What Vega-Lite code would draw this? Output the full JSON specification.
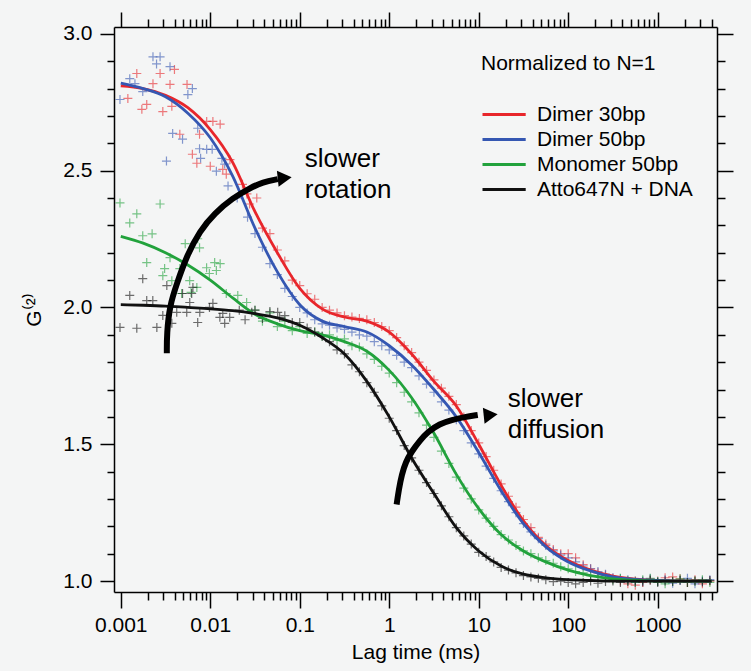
{
"$schema": "https://vega.github.io/schema/vega-lite/v6.json",
"width": 603, "height": 565,
"autosize": {"type": "none"},
"padding": {"left": 114, "top": 27, "right": 34, "bottom": 79},
"background": "#f4f5f5",
"config": {
  "view": {"stroke": null},
  "font": "Liberation Sans",
  "axis": {"domainColor": "black", "tickColor": "black", "domainWidth": 1.5, "tickWidth": 1.5, "labelFont": "Liberation Sans", "labelFontSize": 21, "labelColor": "black", "titleFont": "Liberation Sans", "titleFontSize": 21, "titleFontWeight": "normal", "titleColor": "black", "grid": false},
  "legend": {"titleFont": "Liberation Sans", "titleFontSize": 21, "titleFontWeight": "normal", "titleColor": "black", "labelFont": "Liberation Sans", "labelFontSize": 21, "labelColor": "black", "padding": 0}
},
"datasets": {
  "pts": [
    {"s":"Dimer 30bp","t":0.0012,"g":2.764},{"s":"Dimer 30bp","t":0.00151,"g":2.855},{"s":"Dimer 30bp","t":0.00172,"g":2.724},{"s":"Dimer 30bp","t":0.00195,"g":2.742},{"s":"Dimer 30bp","t":0.00229,"g":2.818},{"s":"Dimer 30bp","t":0.00275,"g":2.855},{"s":"Dimer 30bp","t":0.00295,"g":2.716},{"s":"Dimer 30bp","t":0.00355,"g":2.815},{"s":"Dimer 30bp","t":0.00372,"g":2.735},{"s":"Dimer 30bp","t":0.00398,"g":2.87},{"s":"Dimer 30bp","t":0.00457,"g":2.633},{"s":"Dimer 30bp","t":0.0055,"g":2.815},{"s":"Dimer 30bp","t":0.00631,"g":2.56},{"s":"Dimer 30bp","t":0.00708,"g":2.527},{"s":"Dimer 30bp","t":0.00759,"g":2.633},{"s":"Dimer 30bp","t":0.00912,"g":2.68},{"s":"Dimer 30bp","t":0.01,"g":2.516},{"s":"Dimer 30bp","t":0.0107,"g":2.68},{"s":"Dimer 30bp","t":0.0129,"g":2.67},{"s":"Dimer 30bp","t":0.0138,"g":2.505},{"s":"Dimer 30bp","t":0.0151,"g":2.487},{"s":"Dimer 30bp","t":0.0166,"g":2.54},{"s":"Dimer 30bp","t":0.0229,"g":2.45},{"s":"Dimer 30bp","t":0.0257,"g":2.415},{"s":"Dimer 30bp","t":0.0275,"g":2.378},{"s":"Dimer 30bp","t":0.0331,"g":2.4},
    {"s":"Dimer 30bp","t":0.0383,"g":2.29},{"s":"Dimer 30bp","t":0.0464,"g":2.27},{"s":"Dimer 30bp","t":0.0562,"g":2.21},{"s":"Dimer 30bp","t":0.0681,"g":2.17},{"s":"Dimer 30bp","t":0.0825,"g":2.1},{"s":"Dimer 30bp","t":0.1,"g":2.08},{"s":"Dimer 30bp","t":0.121,"g":2.05},{"s":"Dimer 30bp","t":0.147,"g":2.03},{"s":"Dimer 30bp","t":0.178,"g":2.0},{"s":"Dimer 30bp","t":0.215,"g":1.99},{"s":"Dimer 30bp","t":0.261,"g":1.98},{"s":"Dimer 30bp","t":0.316,"g":1.97},{"s":"Dimer 30bp","t":0.383,"g":1.965},{"s":"Dimer 30bp","t":0.464,"g":1.96},{"s":"Dimer 30bp","t":0.562,"g":1.955},{"s":"Dimer 30bp","t":0.681,"g":1.945},{"s":"Dimer 30bp","t":0.825,"g":1.93},{"s":"Dimer 30bp","t":1,"g":1.915},{"s":"Dimer 30bp","t":1.21,"g":1.89},{"s":"Dimer 30bp","t":1.47,"g":1.86},{"s":"Dimer 30bp","t":1.78,"g":1.835},{"s":"Dimer 30bp","t":2.15,"g":1.8},{"s":"Dimer 30bp","t":2.61,"g":1.77},{"s":"Dimer 30bp","t":3.16,"g":1.735},{"s":"Dimer 30bp","t":3.83,"g":1.705},{"s":"Dimer 30bp","t":4.64,"g":1.675},{"s":"Dimer 30bp","t":5.62,"g":1.645},{"s":"Dimer 30bp","t":6.81,"g":1.6},{"s":"Dimer 30bp","t":8.25,"g":1.55},{"s":"Dimer 30bp","t":10,"g":1.505},{"s":"Dimer 30bp","t":12.1,"g":1.455},{"s":"Dimer 30bp","t":14.7,"g":1.405},{"s":"Dimer 30bp","t":17.8,"g":1.355},{"s":"Dimer 30bp","t":21.5,"g":1.31},{"s":"Dimer 30bp","t":26.1,"g":1.27},{"s":"Dimer 30bp","t":31.6,"g":1.225},{"s":"Dimer 30bp","t":38.3,"g":1.195},{"s":"Dimer 30bp","t":46.4,"g":1.16},{"s":"Dimer 30bp","t":56.2,"g":1.135},{"s":"Dimer 30bp","t":68.1,"g":1.115},{"s":"Dimer 30bp","t":82.5,"g":1.1},{"s":"Dimer 30bp","t":100,"g":1.1},{"s":"Dimer 30bp","t":121,"g":1.085},{"s":"Dimer 30bp","t":147,"g":1.06},{"s":"Dimer 30bp","t":178,"g":1.045},{"s":"Dimer 30bp","t":215,"g":1.03},{"s":"Dimer 30bp","t":261,"g":1.022},{"s":"Dimer 30bp","t":316,"g":1.01},{"s":"Dimer 30bp","t":383,"g":1.0},{"s":"Dimer 30bp","t":464,"g":0.99},{"s":"Dimer 30bp","t":562,"g":0.985},{"s":"Dimer 30bp","t":681,"g":0.995},{"s":"Dimer 30bp","t":825,"g":1.005},{"s":"Dimer 30bp","t":1000,"g":1.0},{"s":"Dimer 30bp","t":1210,"g":1.012},{"s":"Dimer 30bp","t":1470,"g":1.015},{"s":"Dimer 30bp","t":1780,"g":1.008},{"s":"Dimer 30bp","t":2150,"g":0.995},{"s":"Dimer 30bp","t":2610,"g":1.005},{"s":"Dimer 30bp","t":3160,"g":0.99},{"s":"Dimer 30bp","t":3830,"g":1.0},
    {"s":"Dimer 50bp","t":0.00098,"g":2.76},{"s":"Dimer 50bp","t":0.00126,"g":2.836},{"s":"Dimer 50bp","t":0.00144,"g":2.818},{"s":"Dimer 50bp","t":0.00176,"g":2.789},{"s":"Dimer 50bp","t":0.00229,"g":2.916},{"s":"Dimer 50bp","t":0.00251,"g":2.89},{"s":"Dimer 50bp","t":0.00275,"g":2.916},{"s":"Dimer 50bp","t":0.00324,"g":2.535},{"s":"Dimer 50bp","t":0.00355,"g":2.88},{"s":"Dimer 50bp","t":0.0038,"g":2.636},{"s":"Dimer 50bp","t":0.0049,"g":2.615},{"s":"Dimer 50bp","t":0.00562,"g":2.778},{"s":"Dimer 50bp","t":0.00631,"g":2.8},{"s":"Dimer 50bp","t":0.00724,"g":2.655},{"s":"Dimer 50bp","t":0.00759,"g":2.58},{"s":"Dimer 50bp","t":0.0078,"g":2.545},{"s":"Dimer 50bp","t":0.00912,"g":2.578},{"s":"Dimer 50bp","t":0.0105,"g":2.578},{"s":"Dimer 50bp","t":0.0117,"g":2.498},{"s":"Dimer 50bp","t":0.0135,"g":2.545},{"s":"Dimer 50bp","t":0.0145,"g":2.524},{"s":"Dimer 50bp","t":0.0158,"g":2.444},{"s":"Dimer 50bp","t":0.02,"g":2.4},
    {"s":"Dimer 50bp","t":0.0261,"g":2.33},{"s":"Dimer 50bp","t":0.0316,"g":2.27},{"s":"Dimer 50bp","t":0.0383,"g":2.22},{"s":"Dimer 50bp","t":0.0464,"g":2.16},{"s":"Dimer 50bp","t":0.0562,"g":2.12},{"s":"Dimer 50bp","t":0.0681,"g":2.07},{"s":"Dimer 50bp","t":0.0825,"g":2.04},{"s":"Dimer 50bp","t":0.1,"g":2.0},{"s":"Dimer 50bp","t":0.121,"g":1.98},{"s":"Dimer 50bp","t":0.147,"g":1.955},{"s":"Dimer 50bp","t":0.178,"g":1.94},{"s":"Dimer 50bp","t":0.215,"g":1.935},{"s":"Dimer 50bp","t":0.261,"g":1.925},{"s":"Dimer 50bp","t":0.316,"g":1.92},{"s":"Dimer 50bp","t":0.383,"g":1.91},{"s":"Dimer 50bp","t":0.464,"g":1.9},{"s":"Dimer 50bp","t":0.562,"g":1.895},{"s":"Dimer 50bp","t":0.681,"g":1.875},{"s":"Dimer 50bp","t":0.825,"g":1.86},{"s":"Dimer 50bp","t":1,"g":1.845},{"s":"Dimer 50bp","t":1.21,"g":1.825},{"s":"Dimer 50bp","t":1.47,"g":1.8},{"s":"Dimer 50bp","t":1.78,"g":1.78},{"s":"Dimer 50bp","t":2.15,"g":1.75},{"s":"Dimer 50bp","t":2.61,"g":1.72},{"s":"Dimer 50bp","t":3.16,"g":1.69},{"s":"Dimer 50bp","t":3.83,"g":1.655},{"s":"Dimer 50bp","t":4.64,"g":1.625},{"s":"Dimer 50bp","t":5.62,"g":1.59},{"s":"Dimer 50bp","t":6.81,"g":1.55},{"s":"Dimer 50bp","t":8.25,"g":1.505},{"s":"Dimer 50bp","t":10,"g":1.465},{"s":"Dimer 50bp","t":12.1,"g":1.42},{"s":"Dimer 50bp","t":14.7,"g":1.375},{"s":"Dimer 50bp","t":17.8,"g":1.33},{"s":"Dimer 50bp","t":21.5,"g":1.29},{"s":"Dimer 50bp","t":26.1,"g":1.25},{"s":"Dimer 50bp","t":31.6,"g":1.21},{"s":"Dimer 50bp","t":38.3,"g":1.18},{"s":"Dimer 50bp","t":46.4,"g":1.155},{"s":"Dimer 50bp","t":56.2,"g":1.13},{"s":"Dimer 50bp","t":68.1,"g":1.11},{"s":"Dimer 50bp","t":82.5,"g":1.095},{"s":"Dimer 50bp","t":100,"g":1.085},{"s":"Dimer 50bp","t":121,"g":1.07},{"s":"Dimer 50bp","t":147,"g":1.055},{"s":"Dimer 50bp","t":178,"g":1.045},{"s":"Dimer 50bp","t":215,"g":1.035},{"s":"Dimer 50bp","t":261,"g":1.025},{"s":"Dimer 50bp","t":316,"g":1.012},{"s":"Dimer 50bp","t":383,"g":1.008},{"s":"Dimer 50bp","t":464,"g":1.005},{"s":"Dimer 50bp","t":562,"g":0.995},{"s":"Dimer 50bp","t":681,"g":1.0},{"s":"Dimer 50bp","t":825,"g":1.008},{"s":"Dimer 50bp","t":1000,"g":0.998},{"s":"Dimer 50bp","t":1210,"g":1.005},{"s":"Dimer 50bp","t":1470,"g":0.992},{"s":"Dimer 50bp","t":1780,"g":1.002},{"s":"Dimer 50bp","t":2150,"g":1.01},{"s":"Dimer 50bp","t":2610,"g":0.99},{"s":"Dimer 50bp","t":3160,"g":1.0},{"s":"Dimer 50bp","t":3830,"g":1.005},
    {"s":"Monomer 50bp","t":0.00098,"g":2.382},{"s":"Monomer 50bp","t":0.00126,"g":2.309},{"s":"Monomer 50bp","t":0.00151,"g":2.342},{"s":"Monomer 50bp","t":0.00176,"g":2.262},{"s":"Monomer 50bp","t":0.00195,"g":2.164},{"s":"Monomer 50bp","t":0.00224,"g":2.269},{"s":"Monomer 50bp","t":0.00275,"g":2.378},{"s":"Monomer 50bp","t":0.00295,"g":2.116},{"s":"Monomer 50bp","t":0.00309,"g":2.142},{"s":"Monomer 50bp","t":0.00355,"g":2.182},{"s":"Monomer 50bp","t":0.00372,"g":2.098},{"s":"Monomer 50bp","t":0.00457,"g":2.142},{"s":"Monomer 50bp","t":0.00479,"g":2.051},{"s":"Monomer 50bp","t":0.00525,"g":2.233},{"s":"Monomer 50bp","t":0.00589,"g":2.098},{"s":"Monomer 50bp","t":0.0061,"g":2.055},{"s":"Monomer 50bp","t":0.00708,"g":2.073},{"s":"Monomer 50bp","t":0.00724,"g":2.251},{"s":"Monomer 50bp","t":0.00759,"g":2.218},{"s":"Monomer 50bp","t":0.0091,"g":2.145},{"s":"Monomer 50bp","t":0.00977,"g":2.124},{"s":"Monomer 50bp","t":0.0112,"g":2.164},{"s":"Monomer 50bp","t":0.0117,"g":2.135},{"s":"Monomer 50bp","t":0.0129,"g":2.16},{"s":"Monomer 50bp","t":0.0151,"g":2.051},{"s":"Monomer 50bp","t":0.0203,"g":2.044},{"s":"Monomer 50bp","t":0.0255,"g":2.018},
    {"s":"Monomer 50bp","t":0.0316,"g":1.99},{"s":"Monomer 50bp","t":0.0383,"g":1.95},{"s":"Monomer 50bp","t":0.0464,"g":1.98},{"s":"Monomer 50bp","t":0.0562,"g":1.93},{"s":"Monomer 50bp","t":0.0681,"g":1.95},{"s":"Monomer 50bp","t":0.0825,"g":1.915},{"s":"Monomer 50bp","t":0.1,"g":1.93},{"s":"Monomer 50bp","t":0.121,"g":1.905},{"s":"Monomer 50bp","t":0.147,"g":1.91},{"s":"Monomer 50bp","t":0.178,"g":1.895},{"s":"Monomer 50bp","t":0.215,"g":1.9},{"s":"Monomer 50bp","t":0.261,"g":1.88},{"s":"Monomer 50bp","t":0.316,"g":1.885},{"s":"Monomer 50bp","t":0.383,"g":1.86},{"s":"Monomer 50bp","t":0.464,"g":1.855},{"s":"Monomer 50bp","t":0.562,"g":1.83},{"s":"Monomer 50bp","t":0.681,"g":1.81},{"s":"Monomer 50bp","t":0.825,"g":1.785},{"s":"Monomer 50bp","t":1,"g":1.76},{"s":"Monomer 50bp","t":1.21,"g":1.725},{"s":"Monomer 50bp","t":1.47,"g":1.69},{"s":"Monomer 50bp","t":1.78,"g":1.655},{"s":"Monomer 50bp","t":2.15,"g":1.615},{"s":"Monomer 50bp","t":2.61,"g":1.57},{"s":"Monomer 50bp","t":3.16,"g":1.525},{"s":"Monomer 50bp","t":3.83,"g":1.475},{"s":"Monomer 50bp","t":4.64,"g":1.43},{"s":"Monomer 50bp","t":5.62,"g":1.38},{"s":"Monomer 50bp","t":6.81,"g":1.34},{"s":"Monomer 50bp","t":8.25,"g":1.3},{"s":"Monomer 50bp","t":10,"g":1.26},{"s":"Monomer 50bp","t":12.1,"g":1.23},{"s":"Monomer 50bp","t":14.7,"g":1.2},{"s":"Monomer 50bp","t":17.8,"g":1.17},{"s":"Monomer 50bp","t":21.5,"g":1.15},{"s":"Monomer 50bp","t":26.1,"g":1.13},{"s":"Monomer 50bp","t":31.6,"g":1.11},{"s":"Monomer 50bp","t":38.3,"g":1.1},{"s":"Monomer 50bp","t":46.4,"g":1.085},{"s":"Monomer 50bp","t":56.2,"g":1.075},{"s":"Monomer 50bp","t":68.1,"g":1.065},{"s":"Monomer 50bp","t":82.5,"g":1.052},{"s":"Monomer 50bp","t":100,"g":1.045},{"s":"Monomer 50bp","t":121,"g":1.035},{"s":"Monomer 50bp","t":147,"g":1.03},{"s":"Monomer 50bp","t":178,"g":1.02},{"s":"Monomer 50bp","t":215,"g":1.018},{"s":"Monomer 50bp","t":261,"g":1.012},{"s":"Monomer 50bp","t":316,"g":1.005},{"s":"Monomer 50bp","t":383,"g":1.01},{"s":"Monomer 50bp","t":464,"g":1.002},{"s":"Monomer 50bp","t":562,"g":0.995},{"s":"Monomer 50bp","t":681,"g":1.005},{"s":"Monomer 50bp","t":825,"g":1.01},{"s":"Monomer 50bp","t":1000,"g":0.998},{"s":"Monomer 50bp","t":1210,"g":0.99},{"s":"Monomer 50bp","t":1470,"g":1.0},{"s":"Monomer 50bp","t":1780,"g":1.008},{"s":"Monomer 50bp","t":2150,"g":0.995},{"s":"Monomer 50bp","t":2610,"g":1.0},{"s":"Monomer 50bp","t":3160,"g":1.005},{"s":"Monomer 50bp","t":3830,"g":0.995},
    {"s":"Atto647N + DNA","t":0.00098,"g":1.927},{"s":"Atto647N + DNA","t":0.00126,"g":2.044},{"s":"Atto647N + DNA","t":0.00151,"g":1.924},{"s":"Atto647N + DNA","t":0.00176,"g":2.105},{"s":"Atto647N + DNA","t":0.00195,"g":2.025},{"s":"Atto647N + DNA","t":0.00228,"g":2.025},{"s":"Atto647N + DNA","t":0.00253,"g":1.927},{"s":"Atto647N + DNA","t":0.00295,"g":1.971},{"s":"Atto647N + DNA","t":0.00327,"g":2.08},{"s":"Atto647N + DNA","t":0.00372,"g":1.942},{"s":"Atto647N + DNA","t":0.00422,"g":1.982},{"s":"Atto647N + DNA","t":0.0049,"g":2.051},{"s":"Atto647N + DNA","t":0.00546,"g":1.982},{"s":"Atto647N + DNA","t":0.0059,"g":2.018},{"s":"Atto647N + DNA","t":0.0062,"g":2.051},{"s":"Atto647N + DNA","t":0.0064,"g":2.073},{"s":"Atto647N + DNA","t":0.00724,"g":1.945},{"s":"Atto647N + DNA","t":0.00764,"g":1.982},{"s":"Atto647N + DNA","t":0.0098,"g":2.0},{"s":"Atto647N + DNA","t":0.0107,"g":2.015},{"s":"Atto647N + DNA","t":0.0128,"g":1.964},{"s":"Atto647N + DNA","t":0.0138,"g":1.978},{"s":"Atto647N + DNA","t":0.0145,"g":1.942},{"s":"Atto647N + DNA","t":0.0165,"g":1.964},{"s":"Atto647N + DNA","t":0.0211,"g":1.99},{"s":"Atto647N + DNA","t":0.0245,"g":1.955},{"s":"Atto647N + DNA","t":0.0291,"g":1.982},{"s":"Atto647N + DNA","t":0.0316,"g":1.99},{"s":"Atto647N + DNA","t":0.0383,"g":1.96},{"s":"Atto647N + DNA","t":0.0464,"g":1.985},{"s":"Atto647N + DNA","t":0.0567,"g":1.982},{"s":"Atto647N + DNA","t":0.0596,"g":1.964},{"s":"Atto647N + DNA","t":0.0681,"g":1.97},{"s":"Atto647N + DNA","t":0.0825,"g":1.945},
    {"s":"Atto647N + DNA","t":0.1,"g":1.945},{"s":"Atto647N + DNA","t":0.121,"g":1.925},{"s":"Atto647N + DNA","t":0.147,"g":1.91},{"s":"Atto647N + DNA","t":0.178,"g":1.895},{"s":"Atto647N + DNA","t":0.215,"g":1.875},{"s":"Atto647N + DNA","t":0.261,"g":1.845},{"s":"Atto647N + DNA","t":0.316,"g":1.83},{"s":"Atto647N + DNA","t":0.383,"g":1.79},{"s":"Atto647N + DNA","t":0.464,"g":1.765},{"s":"Atto647N + DNA","t":0.562,"g":1.725},{"s":"Atto647N + DNA","t":0.681,"g":1.69},{"s":"Atto647N + DNA","t":0.825,"g":1.64},{"s":"Atto647N + DNA","t":1,"g":1.595},{"s":"Atto647N + DNA","t":1.21,"g":1.55},{"s":"Atto647N + DNA","t":1.47,"g":1.495},{"s":"Atto647N + DNA","t":1.78,"g":1.45},{"s":"Atto647N + DNA","t":2.15,"g":1.405},{"s":"Atto647N + DNA","t":2.61,"g":1.36},{"s":"Atto647N + DNA","t":3.16,"g":1.32},{"s":"Atto647N + DNA","t":3.83,"g":1.275},{"s":"Atto647N + DNA","t":4.64,"g":1.235},{"s":"Atto647N + DNA","t":5.62,"g":1.195},{"s":"Atto647N + DNA","t":6.81,"g":1.165},{"s":"Atto647N + DNA","t":8.25,"g":1.135},{"s":"Atto647N + DNA","t":10,"g":1.105},{"s":"Atto647N + DNA","t":12.1,"g":1.09},{"s":"Atto647N + DNA","t":14.7,"g":1.07},{"s":"Atto647N + DNA","t":17.8,"g":1.05},{"s":"Atto647N + DNA","t":21.5,"g":1.04},{"s":"Atto647N + DNA","t":26.1,"g":1.03},{"s":"Atto647N + DNA","t":31.6,"g":1.02},{"s":"Atto647N + DNA","t":38.3,"g":1.015},{"s":"Atto647N + DNA","t":46.4,"g":1.01},{"s":"Atto647N + DNA","t":56.2,"g":1.005},{"s":"Atto647N + DNA","t":68.1,"g":0.998},{"s":"Atto647N + DNA","t":82.5,"g":1.0},{"s":"Atto647N + DNA","t":100,"g":0.995},{"s":"Atto647N + DNA","t":121,"g":0.99},{"s":"Atto647N + DNA","t":147,"g":0.995},{"s":"Atto647N + DNA","t":178,"g":1.0},{"s":"Atto647N + DNA","t":215,"g":0.992},{"s":"Atto647N + DNA","t":261,"g":0.998},{"s":"Atto647N + DNA","t":316,"g":1.0},{"s":"Atto647N + DNA","t":383,"g":0.995},{"s":"Atto647N + DNA","t":464,"g":0.998},{"s":"Atto647N + DNA","t":562,"g":1.0},{"s":"Atto647N + DNA","t":681,"g":0.997},{"s":"Atto647N + DNA","t":825,"g":1.003},{"s":"Atto647N + DNA","t":1000,"g":0.995},{"s":"Atto647N + DNA","t":1210,"g":1.0},{"s":"Atto647N + DNA","t":1470,"g":0.998},{"s":"Atto647N + DNA","t":1780,"g":1.003},{"s":"Atto647N + DNA","t":2150,"g":0.995},{"s":"Atto647N + DNA","t":2610,"g":1.0},{"s":"Atto647N + DNA","t":3160,"g":0.997},{"s":"Atto647N + DNA","t":3830,"g":1.002}
  ],
  "fit": [
    {"s":"Dimer 30bp","t":0.001,"g":2.81},{"s":"Dimer 30bp","t":0.00178,"g":2.8},{"s":"Dimer 30bp","t":0.00316,"g":2.775},{"s":"Dimer 30bp","t":0.00562,"g":2.73},{"s":"Dimer 30bp","t":0.01,"g":2.65},{"s":"Dimer 30bp","t":0.0178,"g":2.53},{"s":"Dimer 30bp","t":0.0316,"g":2.35},{"s":"Dimer 30bp","t":0.0562,"g":2.2},{"s":"Dimer 30bp","t":0.1,"g":2.07},{"s":"Dimer 30bp","t":0.178,"g":1.995},{"s":"Dimer 30bp","t":0.316,"g":1.965},{"s":"Dimer 30bp","t":0.562,"g":1.95},{"s":"Dimer 30bp","t":1,"g":1.91},{"s":"Dimer 30bp","t":1.78,"g":1.83},{"s":"Dimer 30bp","t":3.16,"g":1.73},{"s":"Dimer 30bp","t":5.62,"g":1.64},{"s":"Dimer 30bp","t":10,"g":1.5},{"s":"Dimer 30bp","t":17.8,"g":1.35},{"s":"Dimer 30bp","t":31.6,"g":1.22},{"s":"Dimer 30bp","t":56.2,"g":1.13},{"s":"Dimer 30bp","t":100,"g":1.075},{"s":"Dimer 30bp","t":178,"g":1.04},{"s":"Dimer 30bp","t":316,"g":1.018},{"s":"Dimer 30bp","t":562,"g":1.007},{"s":"Dimer 30bp","t":1000,"g":1.002},{"s":"Dimer 30bp","t":1780,"g":1.0},{"s":"Dimer 30bp","t":3160,"g":1.0},{"s":"Dimer 30bp","t":4000,"g":1.0},
    {"s":"Dimer 50bp","t":0.001,"g":2.82},{"s":"Dimer 50bp","t":0.00178,"g":2.8},{"s":"Dimer 50bp","t":0.00316,"g":2.77},{"s":"Dimer 50bp","t":0.00562,"g":2.71},{"s":"Dimer 50bp","t":0.01,"g":2.62},{"s":"Dimer 50bp","t":0.0178,"g":2.48},{"s":"Dimer 50bp","t":0.0316,"g":2.29},{"s":"Dimer 50bp","t":0.0562,"g":2.13},{"s":"Dimer 50bp","t":0.1,"g":2.01},{"s":"Dimer 50bp","t":0.178,"g":1.95},{"s":"Dimer 50bp","t":0.316,"g":1.93},{"s":"Dimer 50bp","t":0.562,"g":1.91},{"s":"Dimer 50bp","t":1,"g":1.86},{"s":"Dimer 50bp","t":1.78,"g":1.79},{"s":"Dimer 50bp","t":3.16,"g":1.7},{"s":"Dimer 50bp","t":5.62,"g":1.6},{"s":"Dimer 50bp","t":10,"g":1.47},{"s":"Dimer 50bp","t":17.8,"g":1.33},{"s":"Dimer 50bp","t":31.6,"g":1.21},{"s":"Dimer 50bp","t":56.2,"g":1.125},{"s":"Dimer 50bp","t":100,"g":1.07},{"s":"Dimer 50bp","t":178,"g":1.037},{"s":"Dimer 50bp","t":316,"g":1.015},{"s":"Dimer 50bp","t":562,"g":1.006},{"s":"Dimer 50bp","t":1000,"g":1.002},{"s":"Dimer 50bp","t":1780,"g":1.0},{"s":"Dimer 50bp","t":3160,"g":1.0},{"s":"Dimer 50bp","t":4000,"g":1.0},
    {"s":"Monomer 50bp","t":0.001,"g":2.26},{"s":"Monomer 50bp","t":0.00178,"g":2.235},{"s":"Monomer 50bp","t":0.00316,"g":2.2},{"s":"Monomer 50bp","t":0.00562,"g":2.155},{"s":"Monomer 50bp","t":0.01,"g":2.1},{"s":"Monomer 50bp","t":0.0178,"g":2.035},{"s":"Monomer 50bp","t":0.0316,"g":1.975},{"s":"Monomer 50bp","t":0.0562,"g":1.94},{"s":"Monomer 50bp","t":0.1,"g":1.915},{"s":"Monomer 50bp","t":0.178,"g":1.9},{"s":"Monomer 50bp","t":0.316,"g":1.875},{"s":"Monomer 50bp","t":0.562,"g":1.84},{"s":"Monomer 50bp","t":1,"g":1.77},{"s":"Monomer 50bp","t":1.78,"g":1.67},{"s":"Monomer 50bp","t":3.16,"g":1.54},{"s":"Monomer 50bp","t":5.62,"g":1.39},{"s":"Monomer 50bp","t":10,"g":1.265},{"s":"Monomer 50bp","t":17.8,"g":1.17},{"s":"Monomer 50bp","t":31.6,"g":1.11},{"s":"Monomer 50bp","t":56.2,"g":1.07},{"s":"Monomer 50bp","t":100,"g":1.04},{"s":"Monomer 50bp","t":178,"g":1.02},{"s":"Monomer 50bp","t":316,"g":1.008},{"s":"Monomer 50bp","t":562,"g":1.003},{"s":"Monomer 50bp","t":1000,"g":1.0},{"s":"Monomer 50bp","t":1780,"g":1.0},{"s":"Monomer 50bp","t":3160,"g":1.0},{"s":"Monomer 50bp","t":4000,"g":1.0},
    {"s":"Atto647N + DNA","t":0.001,"g":2.01},{"s":"Atto647N + DNA","t":0.00178,"g":2.008},{"s":"Atto647N + DNA","t":0.00316,"g":2.005},{"s":"Atto647N + DNA","t":0.00562,"g":2.0},{"s":"Atto647N + DNA","t":0.01,"g":1.995},{"s":"Atto647N + DNA","t":0.0178,"g":1.988},{"s":"Atto647N + DNA","t":0.0316,"g":1.977},{"s":"Atto647N + DNA","t":0.0562,"g":1.962},{"s":"Atto647N + DNA","t":0.1,"g":1.935},{"s":"Atto647N + DNA","t":0.178,"g":1.89},{"s":"Atto647N + DNA","t":0.316,"g":1.83},{"s":"Atto647N + DNA","t":0.562,"g":1.73},{"s":"Atto647N + DNA","t":1,"g":1.6},{"s":"Atto647N + DNA","t":1.78,"g":1.45},{"s":"Atto647N + DNA","t":3.16,"g":1.32},{"s":"Atto647N + DNA","t":5.62,"g":1.195},{"s":"Atto647N + DNA","t":10,"g":1.11},{"s":"Atto647N + DNA","t":17.8,"g":1.055},{"s":"Atto647N + DNA","t":31.6,"g":1.025},{"s":"Atto647N + DNA","t":56.2,"g":1.012},{"s":"Atto647N + DNA","t":100,"g":1.005},{"s":"Atto647N + DNA","t":178,"g":1.002},{"s":"Atto647N + DNA","t":316,"g":1.0},{"s":"Atto647N + DNA","t":562,"g":1.0},{"s":"Atto647N + DNA","t":1000,"g":1.0},{"s":"Atto647N + DNA","t":1780,"g":1.0},{"s":"Atto647N + DNA","t":3160,"g":1.0},{"s":"Atto647N + DNA","t":4000,"g":1.0}
  ],
  "arrows": [
    {"a":"rot","i":0,"t":0.00327,"g":1.833},{"a":"rot","i":1,"t":0.00327,"g":1.905},{"a":"rot","i":2,"t":0.00352,"g":2.007},{"a":"rot","i":3,"t":0.00423,"g":2.087},{"a":"rot","i":4,"t":0.00546,"g":2.189},{"a":"rot","i":5,"t":0.00764,"g":2.28},{"a":"rot","i":6,"t":0.0112,"g":2.345},{"a":"rot","i":7,"t":0.0178,"g":2.4},{"a":"rot","i":8,"t":0.0276,"g":2.436},{"a":"rot","i":9,"t":0.0386,"g":2.458},{"a":"rot","i":10,"t":0.0568,"g":2.469},
    {"a":"dif","i":0,"t":1.21,"g":1.28},{"a":"dif","i":1,"t":1.28,"g":1.335},{"a":"dif","i":2,"t":1.38,"g":1.389},{"a":"dif","i":3,"t":1.53,"g":1.436},{"a":"dif","i":4,"t":1.78,"g":1.473},{"a":"dif","i":5,"t":2.19,"g":1.513},{"a":"dif","i":6,"t":2.69,"g":1.545},{"a":"dif","i":7,"t":3.66,"g":1.575},{"a":"dif","i":8,"t":4.99,"g":1.589},{"a":"dif","i":9,"t":6.98,"g":1.6},{"a":"dif","i":10,"t":9.75,"g":1.607}
  ],
  "heads": [
    {"a":"rot","t":0.0679,"g":2.473},
    {"a":"dif","t":13.6,"g":1.607}
  ],
  "notes": [
    {"label":"slower","t":0.1138,"g":2.513},
    {"label":"rotation","t":0.1138,"g":2.4},
    {"label":"slower","t":21.1,"g":1.636},
    {"label":"diffusion","t":21.1,"g":1.524}
  ]
},
"resolve": {"axis": {"x": "independent", "y": "independent"}},
"layer": [
  {
    "data": {"name": "pts"},
    "mark": {"type": "point", "shape": "M-1,0H1M0,-1V1", "filled": false, "size": 81, "strokeWidth": 1.2, "opacity": 0.6},
    "encoding": {
      "x": {"field": "t", "type": "quantitative", "scale": {"type": "log", "domain": [0.00084, 4600], "nice": false},
            "axis": {"orient": "bottom", "values": [0.001, 0.01, 0.1, 1, 10, 100, 1000], "format": "~g", "tickSize": 16, "labelPadding": 6, "labelFont": "Liberation Sans", "labelFontSize": 21, "title": "Lag time (ms)", "titleFont": "Liberation Sans", "titleFontSize": 21, "titleFontWeight": "normal", "titlePadding": 6}},
      "y": {"field": "g", "type": "quantitative", "scale": {"domain": [0.96, 3.025], "nice": false, "zero": false},
            "axis": {"orient": "left", "values": [1, 1.5, 2, 2.5, 3], "format": ".1f", "tickSize": 14, "labelPadding": 8, "labelFont": "Liberation Sans", "labelFontSize": 21, "title": "G⁽²⁾", "titleFont": "Liberation Sans", "titleFontSize": 21, "titleFontWeight": "normal", "titlePadding": 18}},
      "color": {"field": "s", "type": "nominal", "scale": {"domain": ["Dimer 30bp", "Dimer 50bp", "Monomer 50bp", "Atto647N + DNA"], "range": ["#e8262b", "#3557b2", "#22a23c", "#111111"]},
                "legend": {"orient": "none", "legendX": 367, "legendY": 26, "title": "Normalized to N=1", "titleFont": "Liberation Sans", "titleFontSize": 21, "titleFontWeight": "normal", "titlePadding": 30, "labelFont": "Liberation Sans", "labelFontSize": 21, "symbolType": "M-1,0H3.8", "symbolSize": 324, "symbolStrokeWidth": 3, "symbolFillColor": "transparent", "symbolOpacity": 1, "labelOffset": 35, "rowPadding": 3}}
    }
  },
  {
    "data": {"name": "fit"},
    "mark": {"type": "line", "strokeWidth": 2.8, "interpolate": "monotone"},
    "encoding": {
      "x": {"field": "t", "type": "quantitative", "scale": {"type": "log", "domain": [0.00084, 4600], "nice": false},
            "axis": {"orient": "bottom", "values": [0.002,0.003,0.004,0.005,0.006,0.007,0.008,0.009,0.02,0.03,0.04,0.05,0.06,0.07,0.08,0.09,0.2,0.3,0.4,0.5,0.6,0.7,0.8,0.9,2,3,4,5,6,7,8,9,20,30,40,50,60,70,80,90,200,300,400,500,600,700,800,900,2000,3000,4000], "tickSize": 8, "labels": false, "domain": false, "title": null}},
      "y": {"field": "g", "type": "quantitative", "scale": {"domain": [0.96, 3.025], "nice": false, "zero": false},
            "axis": {"orient": "left", "values": [1.1,1.2,1.3,1.4,1.6,1.7,1.8,1.9,2.1,2.2,2.3,2.4,2.6,2.7,2.8,2.9], "tickSize": 7, "labels": false, "domain": false, "title": null}},
      "color": {"field": "s", "type": "nominal", "scale": {"domain": ["Dimer 30bp", "Dimer 50bp", "Monomer 50bp", "Atto647N + DNA"], "range": ["#e8262b", "#3557b2", "#22a23c", "#111111"]},
                "legend": {"orient": "none", "legendX": 367, "legendY": 26, "title": "Normalized to N=1", "titleFont": "Liberation Sans", "titleFontSize": 21, "titleFontWeight": "normal", "titlePadding": 30, "labelFont": "Liberation Sans", "labelFontSize": 21, "symbolType": "M-1,0H3.8", "symbolSize": 324, "symbolStrokeWidth": 3, "symbolFillColor": "transparent", "symbolOpacity": 1, "labelOffset": 35, "rowPadding": 3}}
    }
  },
  {
    "data": {"name": "arrows"},
    "mark": {"type": "line", "strokeWidth": 6, "interpolate": "basis", "color": "black"},
    "encoding": {
      "x": {"field": "t", "type": "quantitative", "scale": {"type": "log", "domain": [0.00084, 4600], "nice": false},
            "axis": {"orient": "top", "values": [0.001, 0.01, 0.1, 1, 10, 100, 1000], "tickSize": 15, "labels": false, "title": null}},
      "y": {"field": "g", "type": "quantitative", "scale": {"domain": [0.96, 3.025], "nice": false, "zero": false},
            "axis": {"orient": "right", "values": [1, 1.5, 2, 2.5, 3], "tickSize": 16, "labels": false, "title": null}},
      "detail": {"field": "a"},
      "order": {"field": "i", "type": "quantitative"}
    }
  },
  {
    "data": {"name": "heads"},
    "mark": {"type": "point", "shape": "triangle-right", "filled": true, "size": 260, "color": "black", "opacity": 1, "angle": -6},
    "encoding": {
      "x": {"field": "t", "type": "quantitative", "scale": {"type": "log", "domain": [0.00084, 4600], "nice": false},
            "axis": {"orient": "top", "values": [0.002,0.003,0.004,0.005,0.006,0.007,0.008,0.009,0.02,0.03,0.04,0.05,0.06,0.07,0.08,0.09,0.2,0.3,0.4,0.5,0.6,0.7,0.8,0.9,2,3,4,5,6,7,8,9,20,30,40,50,60,70,80,90,200,300,400,500,600,700,800,900,2000,3000,4000], "tickSize": 8, "labels": false, "domain": false, "title": null}},
      "y": {"field": "g", "type": "quantitative", "scale": {"domain": [0.96, 3.025], "nice": false, "zero": false},
            "axis": {"orient": "right", "values": [1.1,1.2,1.3,1.4,1.6,1.7,1.8,1.9,2.1,2.2,2.3,2.4,2.6,2.7,2.8,2.9], "tickSize": 8, "labels": false, "domain": false, "title": null}}
    }
  },
  {
    "data": {"name": "notes"},
    "mark": {"type": "text", "align": "left", "baseline": "alphabetic", "fontSize": 26, "font": "Liberation Sans", "color": "black"},
    "encoding": {
      "x": {"field": "t", "type": "quantitative", "scale": {"type": "log", "domain": [0.00084, 4600], "nice": false}, "axis": null},
      "y": {"field": "g", "type": "quantitative", "scale": {"domain": [0.96, 3.025], "nice": false, "zero": false}, "axis": null},
      "text": {"field": "label"}
    }
  }
]
}
